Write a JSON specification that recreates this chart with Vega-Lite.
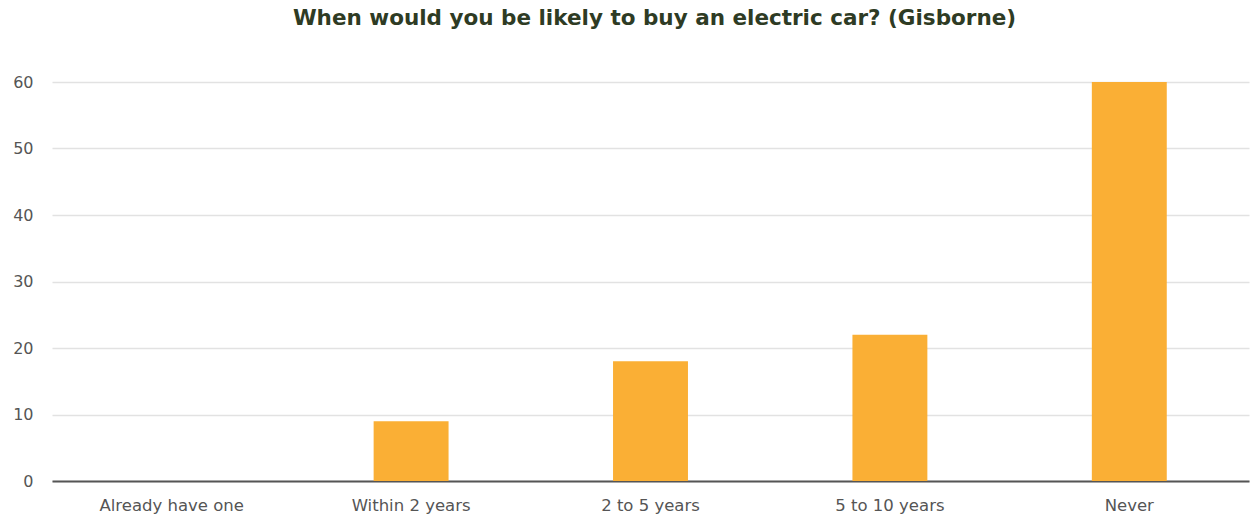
{
  "$schema": "https://vega.github.io/schema/vega-lite/v6.json",
  "width": 1197,
  "height": 399,
  "autosize": {"type": "none"},
  "padding": {"left": 52, "top": 82, "right": 8, "bottom": 39},
  "background": "white",
  "title": {
    "text": "When would you be likely to buy an electric car? (Gisborne)",
    "font": "DejaVu Sans",
    "fontSize": 21.5,
    "fontWeight": "bold",
    "color": "#2E3B24",
    "anchor": "middle",
    "dx": 4,
    "offset": 45
  },
  "config": {
    "view": {"stroke": null},
    "font": "DejaVu Sans"
  },
  "data": {
    "values": [
      {"answer": "Already have one", "count": 0},
      {"answer": "Within 2 years", "count": 9},
      {"answer": "2 to 5 years", "count": 18},
      {"answer": "5 to 10 years", "count": 22},
      {"answer": "Never", "count": 60}
    ]
  },
  "mark": {"type": "bar", "color": "#FAAF35"},
  "encoding": {
    "x": {
      "field": "answer",
      "type": "nominal",
      "sort": null,
      "scale": {"paddingInner": 0.687, "paddingOuter": 0.3435},
      "axis": {
        "title": null,
        "labelAngle": 0,
        "labelFontSize": 16.5,
        "labelColor": "#555555",
        "labelPadding": 16,
        "ticks": false,
        "domainColor": "#555555",
        "domainWidth": 2,
        "grid": false
      }
    },
    "y": {
      "field": "count",
      "type": "quantitative",
      "scale": {"domain": [0, 60]},
      "axis": {
        "title": null,
        "values": [0, 10, 20, 30, 40, 50, 60],
        "labelFontSize": 16,
        "labelColor": "#555555",
        "labelPadding": 19,
        "ticks": false,
        "domain": false,
        "gridColor": "#E2E2E2",
        "gridWidth": 1.5
      }
    }
  }
}
